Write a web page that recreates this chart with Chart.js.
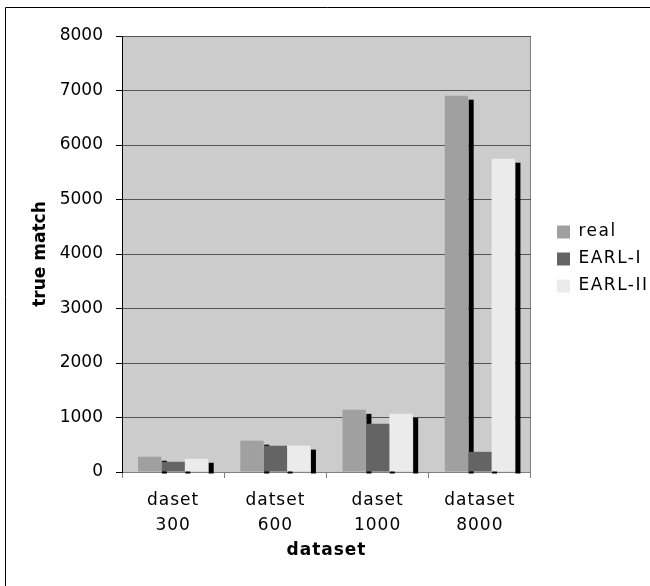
<!DOCTYPE html>
<html>
<head>
<meta charset="utf-8">
<script src="https://cdn.jsdelivr.net/npm/chart.js@4.4.1/dist/chart.umd.min.js"></script>
<style>
  html, body { margin: 0; padding: 0; background: #fff; }
  canvas { display: block; }
</style>
</head>
<body>
<canvas id="chart" width="650" height="586"></canvas>
<script>
const categories = [['daset', '300'], ['datset', '600'], ['daset', '1000'], ['dataset', '8000']];
const seriesNames = ['real', 'EARL-I', 'EARL-II'];
const realValues = [280, 575, 1140, 6905];
const earl1Values = [187, 482, 885, 370];
const earl2Values = [243, 484, 1068, 5748];
const yTickValues = [0, 1000, 2000, 3000, 4000, 5000, 6000, 7000, 8000];

const barColors = ['#a0a0a0', '#646464', '#ebebeb'];

Chart.defaults.font.family = "'DejaVu Sans', Verdana, sans-serif";
Chart.defaults.font.size = 17;
Chart.defaults.color = '#000';

// draw a box with a bit of letter spacing, like the old Excel text
function spaced(box, px) {
  if (box._spaced) return;
  const orig = box.draw;
  box.draw = function (area) {
    this.ctx.letterSpacing = px;
    orig.call(this, area);
    this.ctx.letterSpacing = '0px';
  };
  box._spaced = true;
}

// plot background, outer frame, and the black "depth" strip next to every bar
const excelLook = {
  id: 'excelLook',
  afterLayout(chart) {
    const lg = chart.legend;
    lg.left += 16; lg.right += 16;
    lg.top += 5; lg.bottom += 5;
    spaced(lg, '1.5px');
  },
  beforeDraw(chart) {
    const { ctx, chartArea: a } = chart;
    ctx.save();
    ctx.fillStyle = '#cccccc';
    ctx.fillRect(a.left, a.top, a.right - a.left, a.bottom - a.top);
    ctx.strokeStyle = '#000';
    ctx.lineWidth = 1;
    ctx.beginPath();
    ctx.moveTo(5.5, chart.height);
    ctx.lineTo(5.5, 7.5);
    ctx.lineTo(chart.width, 7.5);
    ctx.stroke();
    ctx.strokeStyle = '#808080';
    ctx.beginPath();
    ctx.moveTo(Math.round(a.right) - 0.5, a.top);
    ctx.lineTo(Math.round(a.right) - 0.5, a.bottom);
    ctx.stroke();
    ctx.restore();
  },
  beforeDatasetsDraw(chart) {
    const ctx = chart.ctx;
    ctx.save();
    ctx.fillStyle = '#000';
    chart.data.datasets.forEach((ds, i) => {
      chart.getDatasetMeta(i).data.forEach(bar => {
        const right = bar.x + bar.width / 2;
        ctx.fillRect(right + 0.5, bar.y + 4, 5, bar.base - bar.y - 2);
      });
    });
    ctx.restore();
  }
};

new Chart(document.getElementById('chart'), {
  type: 'bar',
  data: {
    labels: categories,
    datasets: [
      { label: seriesNames[0], data: realValues, backgroundColor: barColors[0] },
      { label: seriesNames[1], data: earl1Values, backgroundColor: barColors[1] },
      { label: seriesNames[2], data: earl2Values, backgroundColor: barColors[2] }
    ]
  },
  options: {
    responsive: false,
    devicePixelRatio: 1,
    animation: false,
    layout: { padding: { top: 36, left: 0, right: 18, bottom: 0 } },
    datasets: {
      bar: { categoryPercentage: 0.686, barPercentage: 1.0, borderWidth: 0 }
    },
    plugins: {
      tooltip: { enabled: false },
      legend: {
        position: 'right',
        fullSize: false,
        labels: {
          boxWidth: 13,
          boxHeight: 13,
          padding: 10,
          color: '#000',
          font: { size: 17 }
        }
      }
    },
    scales: {
      x: {
        afterFit(scale) {
          scale.height = 114;
          spaced(scale, '1px');
        },
        grid: {
          drawOnChartArea: false,
          color: '#808080',
          tickLength: 6
        },
        border: { color: '#808080' },
        ticks: {
          padding: 10,
          maxRotation: 0,
          font: { size: 17, lineHeight: 1.47 }
        },
        title: {
          display: true,
          text: 'dataset',
          font: { size: 17, weight: 'bold' },
          padding: { bottom: 25 }
        }
      },
      y: {
        min: 0,
        max: 8000,
        afterFit(scale) { scale.width = 122; },
        afterBuildTicks(scale) { scale.ticks = yTickValues.map(v => ({ value: v })); },
        grid: {
          color: '#555555',
          tickColor: '#000',
          tickLength: 6
        },
        border: { color: '#000' },
        ticks: {
          padding: 13,
          font: { size: 17 },
          callback: v => String(v)
        },
        title: {
          display: true,
          text: 'true match',
          font: { size: 17, weight: 'bold' },
          padding: { top: 30 }
        }
      }
    }
  },
  plugins: [excelLook]
});
</script>
</body>
</html>
